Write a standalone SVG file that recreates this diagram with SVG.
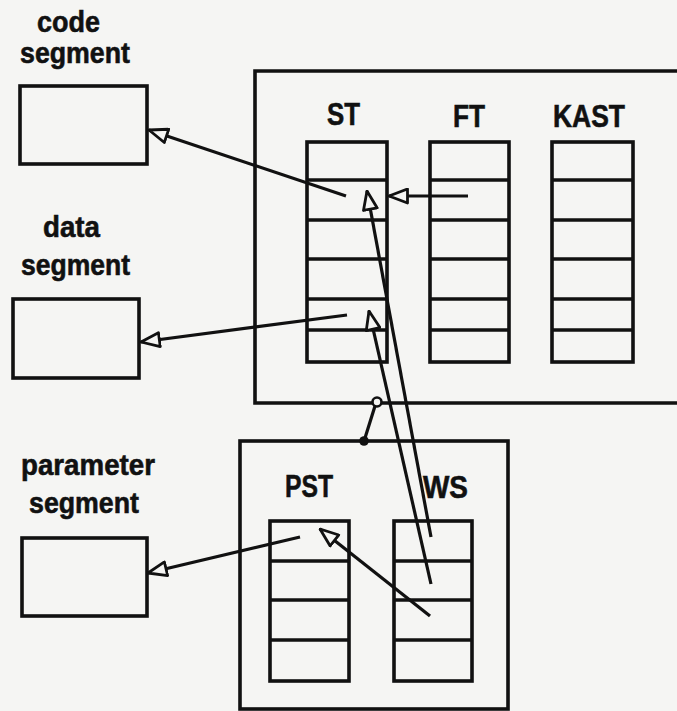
<svg xmlns="http://www.w3.org/2000/svg" width="677" height="711" viewBox="0 0 677 711">
<style>
  .bg { fill: #f5f5f3; }
  .box { fill: none; stroke: #111; stroke-width: 3.6; }
  .row { stroke: #111; stroke-width: 3.6; }
  .lbl { font-family: "Liberation Sans", Arial, sans-serif; font-weight: bold; fill: #111; stroke: #111; stroke-width: 0.6; font-size: 30px; }
  .hdr { font-family: "Liberation Sans", Arial, sans-serif; font-weight: bold; fill: #111; stroke: #111; stroke-width: 0.6; font-size: 32px; }
  .conn { fill: none; stroke: #111; stroke-width: 3.2; }
</style>
<defs>
  <marker id="open" markerUnits="userSpaceOnUse" viewBox="0 0 21 17" refX="20" refY="8.5" markerWidth="21" markerHeight="17" orient="auto">
    <path d="M1.5,1.5 L20,8.5 L1.5,15.5 Z" fill="#f5f5f3" stroke="#111" stroke-width="2.8" stroke-linejoin="round"/>
  </marker>
</defs>
<rect class="bg" x="0" y="0" width="677" height="711"/>

<g id="code-segment">
  <text class="lbl" x="37" y="32" textLength="63" lengthAdjust="spacingAndGlyphs">code</text>
  <text class="lbl" x="20" y="63" textLength="110" lengthAdjust="spacingAndGlyphs">segment</text>
  <rect class="box" x="20" y="86" width="127" height="78"/>
</g>

<g id="data-segment">
  <text class="lbl" x="43" y="237" textLength="57" lengthAdjust="spacingAndGlyphs">data</text>
  <text class="lbl" x="21" y="275" textLength="109" lengthAdjust="spacingAndGlyphs">segment</text>
  <rect class="box" x="13" y="299" width="126" height="79"/>
</g>

<g id="parameter-segment">
  <text class="lbl" x="21" y="475" textLength="134" lengthAdjust="spacingAndGlyphs">parameter</text>
  <text class="lbl" x="29" y="513" textLength="110" lengthAdjust="spacingAndGlyphs">segment</text>
  <rect class="box" x="22" y="538" width="125" height="78"/>
</g>

<g id="main-block">
  <path class="box" d="M680,71 L255,71 L255,403 L680,403"/>
</g>

<g id="ST">
  <text class="hdr" x="327" y="125" textLength="33" lengthAdjust="spacingAndGlyphs">ST</text>
  <rect class="box" x="307" y="142" width="80" height="220"/>
  <line class="row" x1="307" y1="180" x2="387" y2="180"/>
  <line class="row" x1="307" y1="220" x2="387" y2="220"/>
  <line class="row" x1="307" y1="259" x2="387" y2="259"/>
  <line class="row" x1="307" y1="299" x2="387" y2="299"/>
  <line class="row" x1="307" y1="330" x2="387" y2="330"/>
</g>

<g id="FT">
  <text class="hdr" x="453" y="127" textLength="32" lengthAdjust="spacingAndGlyphs">FT</text>
  <rect class="box" x="430" y="142" width="79" height="220"/>
  <line class="row" x1="430" y1="180" x2="509" y2="180"/>
  <line class="row" x1="430" y1="220" x2="509" y2="220"/>
  <line class="row" x1="430" y1="259" x2="509" y2="259"/>
  <line class="row" x1="430" y1="299" x2="509" y2="299"/>
  <line class="row" x1="430" y1="330" x2="509" y2="330"/>
</g>

<g id="KAST">
  <text class="hdr" x="553" y="127" textLength="72" lengthAdjust="spacingAndGlyphs">KAST</text>
  <rect class="box" x="552" y="142" width="81" height="220"/>
  <line class="row" x1="552" y1="180" x2="633" y2="180"/>
  <line class="row" x1="552" y1="220" x2="633" y2="220"/>
  <line class="row" x1="552" y1="259" x2="633" y2="259"/>
  <line class="row" x1="552" y1="299" x2="633" y2="299"/>
  <line class="row" x1="552" y1="330" x2="633" y2="330"/>
</g>

<g id="lower-block">
  <rect class="box" x="240" y="441" width="268" height="268"/>
</g>

<g id="PST">
  <text class="hdr" x="285" y="497" textLength="48" lengthAdjust="spacingAndGlyphs">PST</text>
  <rect class="box" x="270" y="521" width="79" height="160"/>
  <line class="row" x1="270" y1="561" x2="349" y2="561"/>
  <line class="row" x1="270" y1="600" x2="349" y2="600"/>
  <line class="row" x1="270" y1="640" x2="349" y2="640"/>
</g>

<g id="WS">
  <text class="hdr" x="423" y="498" textLength="45" lengthAdjust="spacingAndGlyphs">WS</text>
  <rect class="box" x="394" y="521" width="78" height="160"/>
  <line class="row" x1="394" y1="561" x2="472" y2="561"/>
  <line class="row" x1="394" y1="600" x2="472" y2="600"/>
  <line class="row" x1="394" y1="640" x2="472" y2="640"/>
</g>

<g id="connectors">
  <line class="conn" x1="346" y1="196" x2="149" y2="130" marker-end="url(#open)"/>
  <line class="conn" x1="347" y1="315" x2="141" y2="342" marker-end="url(#open)"/>
  <line class="conn" x1="468" y1="196" x2="389" y2="196" marker-end="url(#open)"/>
  <line class="conn" x1="431" y1="537" x2="367" y2="191" marker-end="url(#open)"/>
  <line class="conn" x1="431" y1="584" x2="369" y2="311" marker-end="url(#open)"/>
  <line class="conn" x1="430" y1="616" x2="320" y2="529" marker-end="url(#open)"/>
  <line class="conn" x1="300" y1="537" x2="148" y2="573" marker-end="url(#open)"/>
  <line class="conn" x1="375" y1="406" x2="365" y2="438"/>
  <circle cx="377" cy="402" r="4.5" fill="#f5f5f3" stroke="#111" stroke-width="2.6"/>
  <circle cx="364" cy="441" r="4.8" fill="#111"/>
</g>
</svg>
